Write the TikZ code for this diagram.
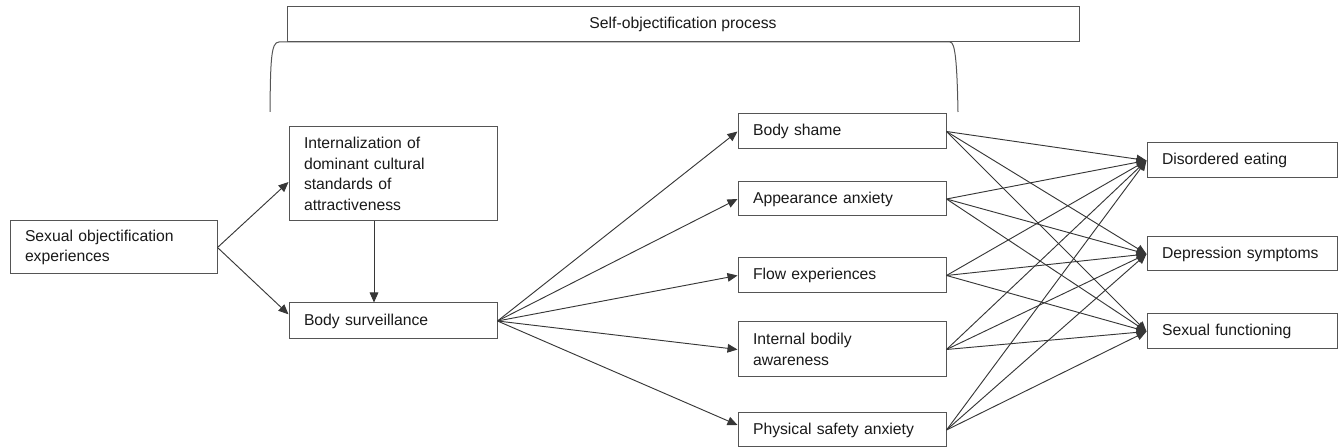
\documentclass[tikz,border=0pt]{standalone}
\usepackage{fontspec}
\setmainfont{Liberation Sans}
\usetikzlibrary{arrows.meta,calc}
\definecolor{framegray}{RGB}{85,85,85}
\definecolor{linkgray}{RGB}{55,55,55}
\definecolor{inkgray}{RGB}{25,25,25}
\begin{document}
\begin{tikzpicture}[x=0.75pt,y=-0.75pt,
  box/.style={draw=framegray, line width=0.75pt, rectangle, inner xsep=11.25pt,
    inner ysep=2pt, align=left, text=inkgray,
    font=\fontsize{11.8}{15.5}\selectfont, anchor=center},
  leftcol/.style={box, text width=133.5pt},
  rightcol/.style={box, text width=120pt},
  link/.style={draw=linkgray, line width=0.7pt, -{Triangle[length=7.5pt,width=6.5pt]}},
  brace/.style={draw=framegray, line width=0.75pt},
]
\useasboundingbox (0,0) rectangle (1338,448);

% header box and the bracket spanning the self-objectification stage
\node[box, align=center, minimum width=594pt, minimum height=26.25pt] (head) at (683,24.5)
  {Self-objectification process};
\coordinate (brL) at (270,112);
\coordinate (brR) at (958,112);
\draw[brace] (brL) .. controls (270.5,60) and (271,42) .. (279,42)
  -- (950,42) .. controls (955,42) and (957,60) .. (brR);

% antecedents
\node[box, text width=132.75pt, minimum height=39.75pt] (soe) at (113.5,247.5)
  {Sexual objectification\\experiences};
\node[leftcol, minimum height=70.5pt] (intl) at (393,174)
  {Internalization of\\dominant cultural\\standards of\\attractiveness};
\node[leftcol, minimum height=27pt] (bsurv) at (393,321) {Body surveillance};

% psychological consequences
\node[leftcol, minimum height=26.25pt] (bshame) at (842,131.5) {Body shame};
\node[leftcol, minimum height=25.5pt]  (appear) at (842,199)   {Appearance anxiety};
\node[leftcol, minimum height=26.25pt] (flow)   at (842,275.5) {Flow experiences};
\node[leftcol, minimum height=41.25pt] (ibody)  at (842,349.5) {Internal bodily\\awareness};
\node[leftcol, minimum height=25.5pt]  (phys)   at (842,430)   {Physical safety anxiety};

% outcomes
\node[rightcol, minimum height=26.25pt] (deat) at (1242,160.5) {Disordered eating};
\node[rightcol, minimum height=25.5pt]  (depr) at (1242,254)   {Depression symptoms};
\node[rightcol, minimum height=26.25pt] (sexf) at (1242,331.5) {Sexual functioning};

% paths
\draw[link] (soe.east) -- ([yshift=-6pt]intl.west);
\draw[link] (soe.east) -- ([yshift=5pt]bsurv.west);
\draw[link] ([xshift=-14.25pt]intl.south) -- ([xshift=-14.25pt]bsurv.north);
\foreach \m in {bshame,appear,flow,ibody}
  \draw[link] (bsurv.east) -- (\m.west);
\draw[link] (bsurv.east) -- ([yshift=3.75pt]phys.west);
\foreach \m in {bshame,appear,flow,ibody,phys}
  \foreach \r in {deat,depr,sexf}
    \draw[link] (\m.east) -- (\r.west);
\end{tikzpicture}
\end{document}
